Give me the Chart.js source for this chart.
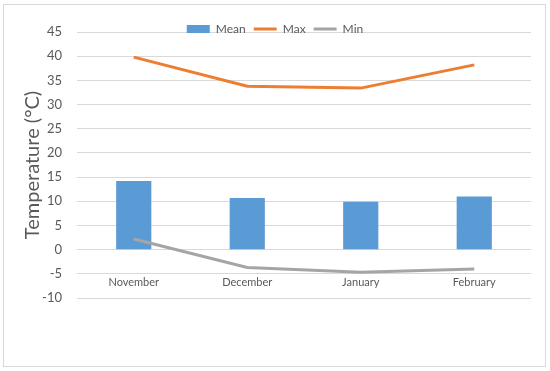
<!DOCTYPE html>
<html>
<head>
<meta charset="utf-8">
<script src="https://cdn.jsdelivr.net/npm/chart.js@4/dist/chart.umd.min.js"></script>
<style>
  html, body { margin: 0; padding: 0; background: #fff; }
  #wrap { position: relative; width: 550px; height: 371px; }
  #frame { position: absolute; left: 3px; top: 4px; width: 541px; height: 361px; border: 1px solid #d9d9d9; }
  canvas { position: absolute; left: 0; top: 0; }
</style>
</head>
<body>
<div id="wrap">
  <div id="frame"></div>
  <canvas id="chart" width="550" height="371"></canvas>
</div>
<script>
const months = ['November', 'December', 'January', 'February'];
const meanTemp = [14.2, 10.7, 9.9, 11.0];
const maxTemp = [39.8, 33.8, 33.4, 38.2];
const minTemp = [2.2, -3.7, -4.7, -4.0];

const FONT = 'Lato, "Open Sans", sans-serif';
const TEXT = '#595959';

Chart.defaults.font.family = FONT;
Chart.defaults.color = TEXT;

// legend is squeezed to a small height so it overlaps the top gridline;
// widen its clip box again after layout so the text isn't cut off
const legendUnclip = {
  id: 'legendUnclip',
  afterLayout(chart) {
    if (chart.legend) chart.legend.bottom = chart.legend.top + 40;
  }
};

new Chart(document.getElementById('chart'), {
  type: 'bar',
  data: {
    labels: months,
    datasets: [
      { label: 'Mean', data: meanTemp, backgroundColor: '#5b9bd5', borderWidth: 0, order: 1,
        barPercentage: 0.31, categoryPercentage: 1 },
      { type: 'line', label: 'Max', data: maxTemp, borderColor: '#ed7d31', backgroundColor: '#ed7d31',
        borderWidth: 3, pointRadius: 0, tension: 0, order: 0 },
      { type: 'line', label: 'Min', data: minTemp, borderColor: '#a5a5a5', backgroundColor: '#a5a5a5',
        borderWidth: 3, pointRadius: 0, tension: 0, order: 0 }
    ]
  },
  options: {
    responsive: false,
    animation: false,
    layout: { padding: { left: 19, right: 19, top: 15, bottom: 73 } },
    plugins: {
      tooltip: { enabled: false },
      legend: {
        position: 'top',
        maxHeight: 17,
        labels: {
          usePointStyle: true,
          pointStyleWidth: 23,
          boxHeight: 8,
          padding: 8,
          color: TEXT,
          font: { size: 12 },
          sort: (a, b) => a.datasetIndex - b.datasetIndex,
          generateLabels: chart => {
            const items = Chart.defaults.plugins.legend.labels.generateLabels(chart);
            items.forEach(it => { it.pointStyle = it.datasetIndex === 0 ? 'rect' : 'line'; });
            return items;
          }
        }
      }
    },
    scales: {
      x: {
        position: { y: -5 },
        grid: { display: false, drawTicks: false },
        border: { display: false },
        ticks: { color: TEXT, font: { size: 11 }, padding: 2 }
      },
      y: {
        min: -10,
        max: 45,
        afterFit: s => { s.width = 58; },
        grid: { color: '#d9d9d9', drawTicks: false },
        border: { display: false },
        ticks: { stepSize: 5, color: TEXT, font: { size: 13 }, padding: 15 },
        title: { display: true, text: 'Temperature (°C)', color: TEXT, font: { size: 20 }, padding: 2 }
      }
    }
  },
  plugins: [legendUnclip]
});
</script>
</body>
</html>
